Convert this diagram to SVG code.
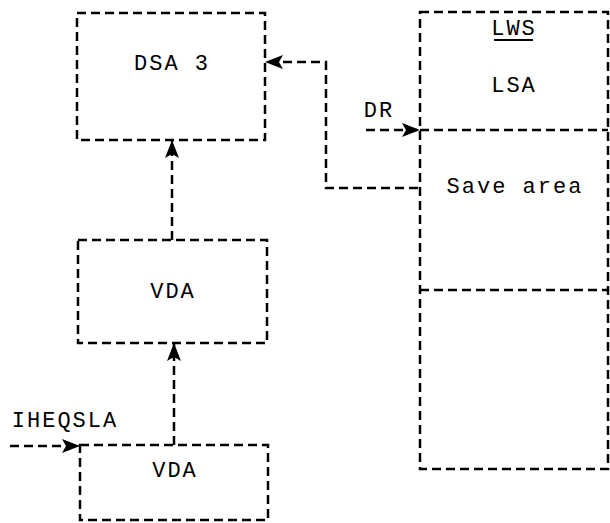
<svg xmlns="http://www.w3.org/2000/svg" width="610" height="523" viewBox="0 0 610 523">
<style>
.box{fill:none;stroke:#000;stroke-width:2.5;stroke-dasharray:9 5}
.ln{fill:none;stroke:#000;stroke-width:2.5;stroke-dasharray:9 5}
.t{font-family:"Liberation Mono","Courier New",monospace;font-size:22px;letter-spacing:2px;fill:#000;text-anchor:middle}
</style>
<defs>
<marker id="ah" viewBox="0 0 18 14" refX="18" refY="7" markerWidth="18" markerHeight="14" markerUnits="userSpaceOnUse" orient="auto">
<path d="M0,0 L18,7 L0,14 L4,7 Z" fill="#000"/>
</marker>
</defs>
<g id="dsa3">
<rect class="box" x="77" y="13" width="188" height="127"/>
<text class="t" x="172" y="70">DSA 3</text>
</g>
<g id="vda1">
<rect class="box" x="78" y="240" width="189" height="103"/>
<text class="t" x="173" y="298">VDA</text>
</g>
<g id="vda2">
<rect class="box" x="80" y="445" width="188" height="75"/>
<text class="t" x="175" y="477">VDA</text>
</g>
<g id="lws">
<rect class="box" x="420" y="12" width="188" height="457"/>
<line class="box" x1="420" y1="130" x2="608" y2="130"/>
<line class="box" x1="420" y1="290" x2="608" y2="290"/>
<text class="t" x="514" y="35">LWS</text>
<line x1="494" y1="40" x2="533" y2="40" stroke="#000" stroke-width="2"/>
<text class="t" x="514" y="92">LSA</text>
<text class="t" x="515" y="193">Save area</text>
</g>
<g id="labels">
<text class="t" x="379" y="117">DR</text>
<text class="t" x="65" y="427">IHEQSLA</text>
</g>
<g id="connectors">
<polyline class="ln" points="418,188 326,188 326,62 265,62" marker-end="url(#ah)"/>
<line class="ln" x1="366" y1="130" x2="420" y2="130" marker-end="url(#ah)"/>
<line class="ln" x1="172" y1="240" x2="172" y2="140" marker-end="url(#ah)"/>
<line class="ln" x1="174" y1="445" x2="174" y2="343" marker-end="url(#ah)"/>
<line class="ln" x1="10" y1="446" x2="80" y2="446" marker-end="url(#ah)"/>
</g>
</svg>
